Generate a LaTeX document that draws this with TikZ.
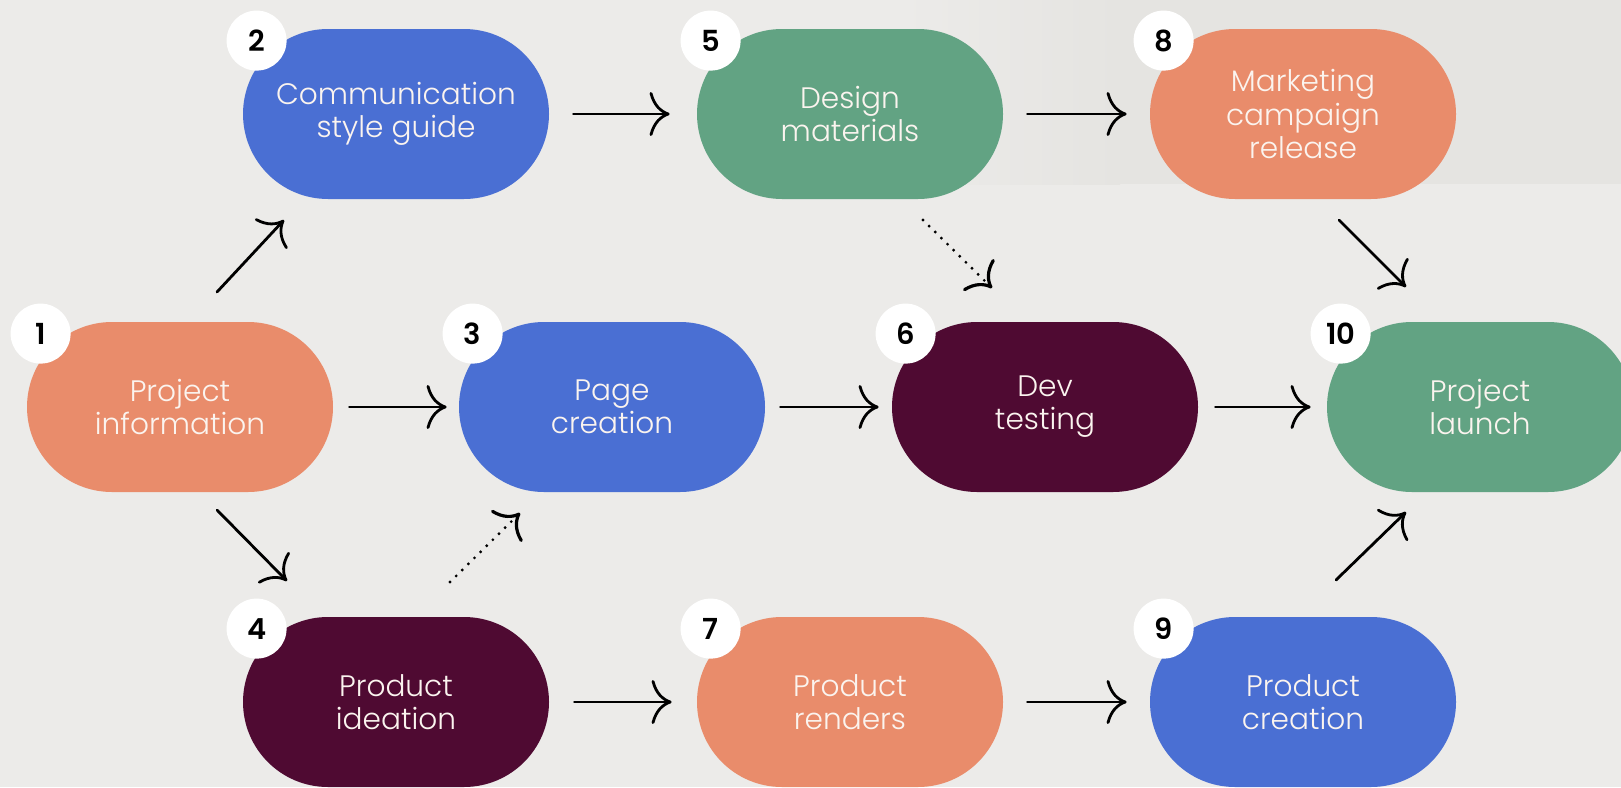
\documentclass[tikz,border=0pt]{standalone}
\usepackage{fontspec}
\setmainfont{Poppins Light}
\newfontfamily\numfont{Poppins SemiBold}
\usetikzlibrary{arrows.meta,calc}
\definecolor{bg}{HTML}{ECEBE9}
\definecolor{bgdark}{HTML}{E5E4E1}
\definecolor{corange}{HTML}{E98C6B}
\definecolor{cblue}{HTML}{4A6FD3}
\definecolor{cgreen}{HTML}{62A383}
\definecolor{cmaroon}{HTML}{4F0A32}
\definecolor{txt}{HTML}{FBF4EF}
\begin{document}
\begin{tikzpicture}[x=0.5pt,y=-0.5pt,
  stage/.style={rectangle, rounded corners=42.5pt, minimum width=153pt, minimum height=85pt,
    inner sep=0pt, text=txt, font=\fontsize{14.8}{16.6}\selectfont, align=center},
  num/.style={circle, fill=white, minimum size=30pt, inner sep=0pt, text=black,
    font=\numfont\fontsize{14.5}{14.5}\selectfont},
  arr/.style={line width=1.4pt, line cap=round, -{Computer Modern Rightarrow[length=10pt,width=22pt]}},
  dotarr/.style={arr, dash pattern=on 0pt off 4.3pt, line width=1.6pt}]
\clip (0,0) rectangle (1621,787);
\fill[bg] (0,0) rectangle (1621,787);
\shade[left color=bg, right color=bgdark] (900,0) rectangle (1120,184);
\fill[bgdark] (1119,0) rectangle (1621,184);

% nodes
\node[stage, fill=corange] (n1) at (180,407) {Project\\information};
\node[stage, fill=cblue] (n2) at (396,114) {Communication\\style guide};
\node[stage, fill=cblue] (n3) at (612,407) {Page\\creation};
\node[stage, fill=cmaroon] (n4) at (396,702) {Product\\ideation};
\node[stage, fill=cgreen] (n5) at (850,114) {Design\\materials};
\node[stage, fill=cmaroon] (n6) at (1045,407) {Dev\\testing};
\node[stage, fill=corange] (n7) at (850,702) {Product\\renders};
\node[stage, fill=corange] (n8) at (1303,114) {Marketing\\campaign\\release};
\node[stage, fill=cblue] (n9) at (1303,702) {Product\\creation};
\node[stage, fill=cgreen] (n10) at (1480,407) {Project\\launch};

% number badges
\foreach \i in {1,...,10}{
  \node[num] (k\i) at ($(n\i.north west)+(14,12)$) {\i};
}

% horizontal arrows
\draw[arr, shorten <=12pt, shorten >=13.5pt] (n2) -- (n5);
\draw[arr, shorten <=12pt, shorten >=11.5pt] (n5) -- (n8);
\draw[arr, shorten <=8pt, shorten >=6pt] (n1) -- (n3);
\draw[arr, shorten <=7.5pt, shorten >=6.5pt] (n3) -- (n6);
\draw[arr, shorten <=8.5pt, shorten >=8pt] (n6) -- (n10);
\draw[arr, shorten <=12.5pt, shorten >=12.5pt] (n4) -- (n7);
\draw[arr, shorten <=12pt, shorten >=11.5pt] (n7) -- (n9);

% diagonal arrows
\coordinate (d12s) at (217,292); \coordinate (d12e) at (284,220);
\coordinate (d14s) at (217,510); \coordinate (d14e) at (287,581);
\coordinate (d810s) at (1339,220); \coordinate (d810e) at (1406,287);
\coordinate (d910s) at (1336,580); \coordinate (d910e) at (1406,512);
\coordinate (d43s) at (450,582); \coordinate (d43e) at (520,513);
\coordinate (d56s) at (923,220); \coordinate (d56e) at (992,288);
\draw[arr] (d12s) -- (d12e);
\draw[arr] (d14s) -- (d14e);
\draw[arr] (d810s) -- (d810e);
\draw[arr] (d910s) -- (d910e);
\draw[dotarr] (d43s) -- (d43e);
\draw[dotarr] (d56s) -- (d56e);
\end{tikzpicture}
\end{document}
